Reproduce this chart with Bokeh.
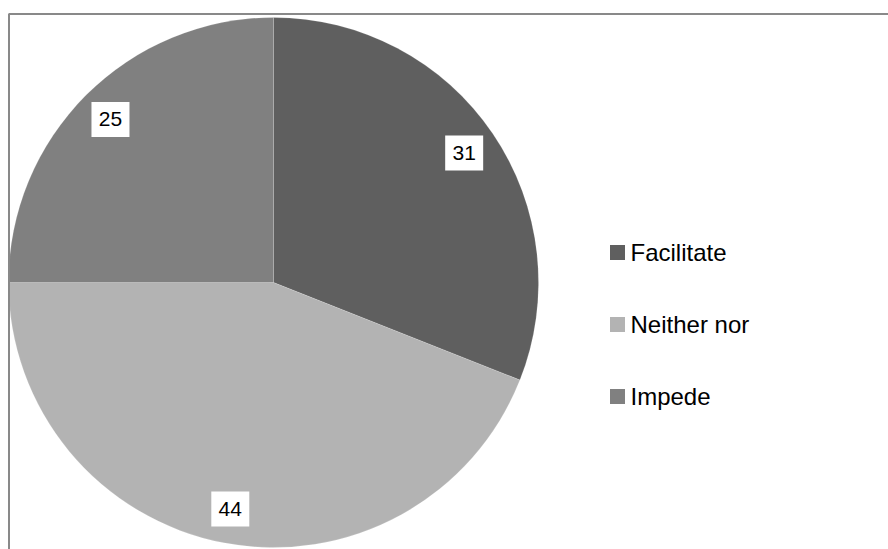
import numpy as np
from bokeh.plotting import figure
from bokeh.models import Range1d, ColumnDataSource
from bokeh.core.properties import value
from bokeh.embed import file_html
from bokeh.resources import INLINE

# Data
categories = ["Facilitate", "Neither nor", "Impede"]
values = [31, 44, 25]
colors = ["#5f5f5f", "#b3b3b3", "#808080"]

W, H = 888, 549
p = figure(width=W, height=H, output_backend="svg", toolbar_location=None,
           x_range=Range1d(0, W), y_range=Range1d(0, H), min_border=0)
p.axis.visible = False
p.grid.visible = False
p.outline_line_color = None
p.background_fill_color = "white"
p.border_fill_color = "white"

# pie layout (data coords: x = screen_x, y = 549 - screen_y)
cx, cy, R = 273, 267, 265

vals = np.array(values, dtype=float)
frac = vals / vals.sum()
cum = np.concatenate([[0], np.cumsum(frac)])
cw_start = cum[:-1] * 2 * np.pi
cw_end = cum[1:] * 2 * np.pi
start = np.pi / 2 - cw_end
end = np.pi / 2 - cw_start
mid_cw = (cw_start + cw_end) / 2

src = ColumnDataSource(dict(cat=categories, val=values, color=colors,
                            start=start, end=end))
p.wedge(x=cx, y=cy, radius=R, start_angle="start", end_angle="end",
        fill_color="color", line_color="white", line_alpha=0.25, line_width=0.6,
        source=src)

# value labels
lr = 0.87 * R
lx = cx + lr * np.sin(mid_cw)
ly = cy + lr * np.cos(mid_cw)
lsrc = ColumnDataSource(dict(x=lx, y=ly, txt=[str(v) for v in values]))
p.rect(x="x", y="y", width=38, height=35, width_units="screen", height_units="screen",
       fill_color="white", line_color=None, source=lsrc)
p.text(x="x", y="y", text="txt", text_align="center", text_baseline="middle",
       text_font=value("Liberation Sans"), text_font_size="21px",
       text_color="#000000", source=lsrc)

# legend
leg_y = [549 - 252, 549 - 324, 549 - 396]
gsrc = ColumnDataSource(dict(y=leg_y, cat=categories, color=colors))
p.rect(x=617, y="y", width=15, height=15, width_units="screen", height_units="screen",
       fill_color="color", line_color=None, source=gsrc)
p.text(x=630, y="y", text="cat", text_align="left", text_baseline="middle",
       text_font=value("Liberation Sans"), text_font_size="24px",
       text_color="#000000", source=gsrc)

# chart border (top and left visible)
p.line(x=[8.5, 8.5, 888], y=[0, 535.5, 535.5], line_color="#898989", line_width=2)

open("out.html", "w").write(file_html(p, INLINE))
